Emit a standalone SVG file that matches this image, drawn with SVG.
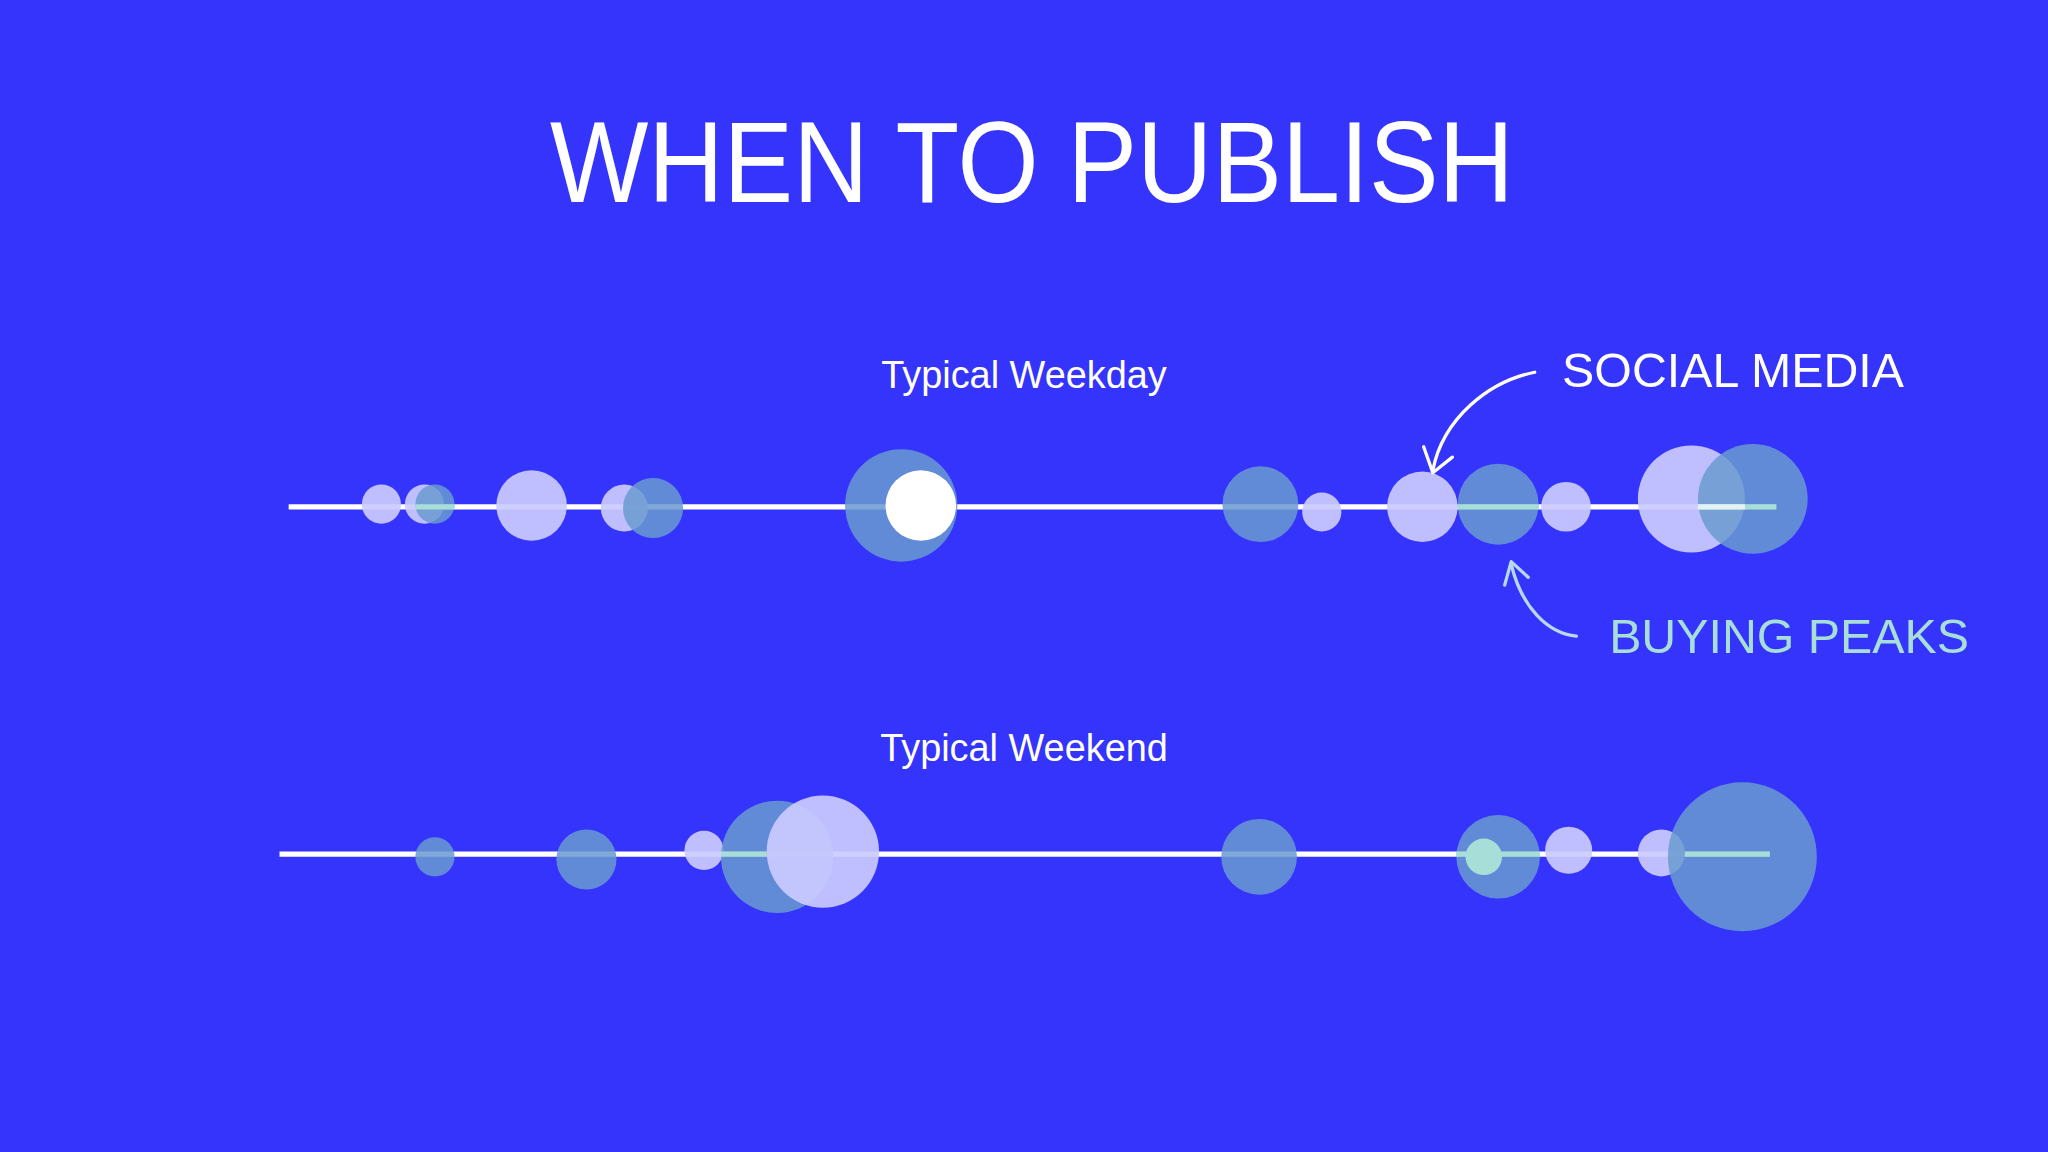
<svg xmlns="http://www.w3.org/2000/svg" width="2048" height="1152" viewBox="0 0 2048 1152">
<style>
.lav{fill:#cbcbff;opacity:0.92}
.blu{fill:#6a9ad0;opacity:0.85}
.ln{stroke:#fff;stroke-width:4}
.mint{stroke:#a8ded8;stroke-width:4}
.t{font-family:"Liberation Sans",Arial,sans-serif;fill:#fff}
.arr{fill:none;stroke:#fff;stroke-width:2.5;stroke-linecap:round;stroke-linejoin:round}
</style>
<rect width="2048" height="1152" fill="#3434fc"/>
<g transform="scale(1.30612)">
<g id="title"><text class="t" x="790" y="155" font-size="88" text-anchor="middle" textLength="738" lengthAdjust="spacingAndGlyphs">WHEN TO PUBLISH</text></g>
<g id="weekday">
<text class="t" x="784" y="297" font-size="29" text-anchor="middle">Typical Weekday</text>
<line class="ln" x1="221" y1="388" x2="1360" y2="388"/>
<circle class="lav" cx="292" cy="386" r="15"/>
<circle class="lav" cx="325" cy="386" r="15"/>
<circle class="blu" cx="333" cy="386" r="15"/>
<circle class="lav" cx="407" cy="387" r="27"/>
<circle class="lav" cx="478" cy="389" r="18"/>
<circle class="blu" cx="500" cy="389" r="23"/>
<circle class="blu" cx="690" cy="387" r="43"/>
<circle fill="#fff" cx="705" cy="387" r="27"/>
<circle class="blu" cx="965" cy="386" r="29"/>
<circle class="lav" cx="1012" cy="392" r="15"/>
<circle class="lav" cx="1089" cy="388" r="27"/>
<circle class="blu" cx="1147" cy="386" r="31"/>
<circle class="lav" cx="1199" cy="388" r="19"/>
<circle class="lav" cx="1295" cy="382" r="41"/>
<circle class="blu" cx="1342" cy="382" r="42"/>
<line class="mint" x1="318" y1="388" x2="348" y2="388"/>
<line class="mint" x1="1116" y1="388" x2="1178" y2="388"/>
<line class="mint" x1="1300" y1="388" x2="1360" y2="388"/>
<line stroke="#e4f2f4" stroke-width="4" x1="1300" y1="388" x2="1336" y2="388"/>
</g>
<g id="weekend">
<text class="t" x="784" y="583" font-size="29" text-anchor="middle">Typical Weekend</text>
<line class="ln" x1="214" y1="654" x2="1355" y2="654"/>
<circle class="blu" cx="333" cy="656" r="15"/>
<circle class="blu" cx="449" cy="658" r="23"/>
<circle class="lav" cx="539" cy="651" r="15"/>
<circle class="blu" cx="595" cy="656" r="43"/>
<circle class="lav" cx="630" cy="652" r="43"/>
<circle class="blu" cx="964" cy="656" r="29"/>
<circle class="blu" cx="1147" cy="656" r="32"/>
<circle fill="#a8ded8" cx="1136" cy="656" r="14"/>
<circle class="lav" cx="1201" cy="651" r="18"/>
<circle class="lav" cx="1272" cy="653" r="18"/>
<circle class="blu" cx="1334" cy="656" r="57"/>
<line class="mint" x1="1290" y1="654" x2="1355" y2="654"/>
<line class="mint" x1="1115" y1="654" x2="1179" y2="654"/>
<line class="mint" x1="552" y1="654" x2="587" y2="654"/>
</g>
<g id="connectors">
<path class="arr" d="M1175,285 C1140,292 1105,320 1097,360"/>
<path class="arr" d="M1090,342 L1097,362 L1112,350"/>
<path class="arr" stroke="#a8ded8" style="stroke:#b8d8f0" d="M1207,487 C1185,485 1165,465 1157,432"/>
<path class="arr" style="stroke:#b8d8f0" d="M1152,448 L1157,430 L1170,442"/>
</g>
<g id="labels">
<text class="t" x="1196" y="296" font-size="37">SOCIAL MEDIA</text>
<text class="t" x="1232" y="500" font-size="37" style="fill:#a8ded8">BUYING PEAKS</text>
</g>
</g>
</svg>
